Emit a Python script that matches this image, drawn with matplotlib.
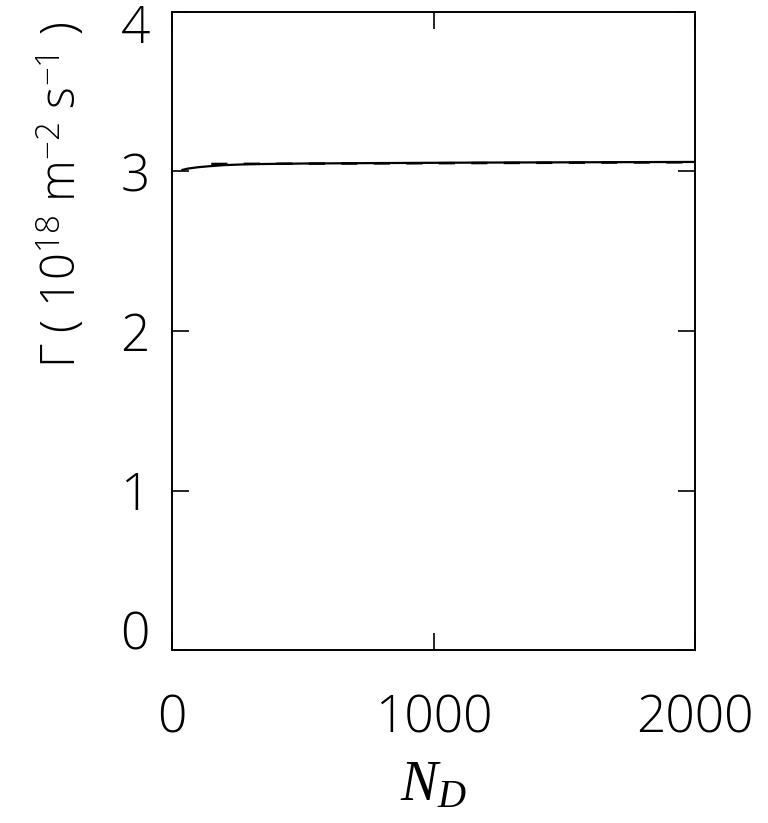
import matplotlib
matplotlib.use("Agg")
import matplotlib.pyplot as plt
import matplotlib.transforms as mtransforms
import numpy as np

# flux vs N_D
nd_solid = [40, 60, 100, 150, 200, 300, 500, 800, 1200, 1600, 2000]
flux_solid = [3.010, 3.018, 3.027, 3.034, 3.040, 3.046, 3.050, 3.053, 3.056, 3.058, 3.060]
nd_dash = [150, 2000]
flux_dash = [3.047, 3.058]

plt.rcParams['font.family'] = ['Open Sans', 'DejaVu Sans']
plt.rcParams['mathtext.fontset'] = 'custom'
plt.rcParams['mathtext.rm'] = 'Open Sans:light'
plt.rcParams['mathtext.it'] = 'Liberation Serif:italic'

fig = plt.figure(figsize=(7.68, 8.23), dpi=100)
ax = fig.add_axes([172/768, 1 - 650/823, (695-172)/768, (650-12)/823])

ax.plot(nd_solid, flux_solid, color='black', lw=1.6)
ax.plot(nd_dash, flux_dash, color='black', lw=1.8, ls=(0, (6.5, 6.5)))

ax.set_xlim(0, 2000)
ax.set_ylim(0, 4)
ax.set_xticks([0, 1000, 2000])
ax.set_yticks([0, 1, 2, 3, 4])
ax.tick_params(direction='in', length=12, width=1.2, top=True, right=True,
               labelsize=37)
ax.tick_params(axis='x', pad=31)
ax.tick_params(axis='y', pad=16)
for lab in ax.get_xticklabels() + ax.get_yticklabels():
    lab.set_fontweight('light')
# keep end labels inside the axis range, like the original
ylabs = ax.get_yticklabels()
ylabs[0].set_verticalalignment('baseline')
ylabs[-1].set_verticalalignment('top')
ylabs[-1].set_transform(mtransforms.offset_copy(ylabs[-1].get_transform(),
                                                fig=fig, y=8, units='dots'))
for s in ax.spines.values():
    s.set_linewidth(1.4)

ax.set_xlabel(r'$N_D$', fontsize=40)
ax.xaxis.set_label_coords(0.5, -0.168)
ax.set_ylabel(r'$\Gamma$ ( 10$^{18}$ m$^{-2}$ s$^{-1}$ )', fontsize=34,
              fontweight='light')
ax.yaxis.set_label_coords(-0.16, 0.713)

fig.savefig('out.png', dpi=100)
